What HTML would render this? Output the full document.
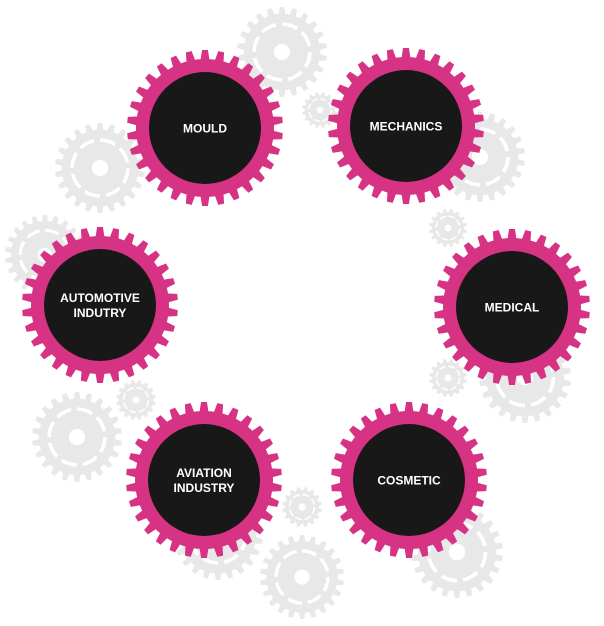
<!DOCTYPE html>
<html><head><meta charset="utf-8"><style>
html,body{margin:0;padding:0;background:#fff;width:604px;height:626px;overflow:hidden}
svg{position:absolute;left:0;top:0}
text{font-family:"Liberation Sans",sans-serif;font-weight:bold;fill:#fff;font-size:12px;text-anchor:middle}
</style></head><body>
<svg id="s" width="604" height="626" viewBox="0 0 604 626"></svg>
<script>
var s=document.getElementById('s'),NS='http://www.w3.org/2000/svg';
function gear(cx,cy,ro,ri,n){var d='',st=Math.PI*2/n;for(var i=0;i<n;i++){var a=i*st;
var pts=[[ri,a],[ri,a+st*0.2],[ro,a+st*0.32],[ro,a+st*0.68],[ri,a+st*0.8]];
pts.forEach(function(p,j){d+=(i==0&&j==0?'M':'L')+(cx+p[0]*Math.cos(p[1])).toFixed(2)+','+(cy+p[0]*Math.sin(p[1])).toFixed(2);});}
return d+'Z';}
function el(t,a){var e=document.createElementNS(NS,t);for(var k in a)e.setAttribute(k,a[k]);s.appendChild(e);return e;}
function grey(cx,cy,r){var n=r>30?22:16;
el('path',{d:gear(cx,cy,r,r*0.85,n),fill:'#e8e8e8'});
el('circle',{cx:cx,cy:cy,r:r*0.62,fill:'none',stroke:'#fff','stroke-width':r*0.08,'stroke-dasharray':(r*0.62*2*Math.PI/8*0.72)+' '+(r*0.62*2*Math.PI/8*0.28)});
el('circle',{cx:cx,cy:cy,r:r*0.18,fill:'#fff'});}
[[282,52,45],[320,110,18],[100,168,45],[480,157,45],[45,255,40],[448,228,19],[525,377,46],[448,378,19],[77,437,45],[136,400,20],[218,535,45],[302,507,20],[302,577,42],[457,552,46]].forEach(function(g){grey(g[0],g[1],g[2]);});
function pink(cx,cy,lines){
el('path',{d:gear(cx,cy,78,69,30),fill:'#d63384'});
el('circle',{cx:cx,cy:cy,r:56,fill:'#181818'});
var y0=cy+4.5-(lines.length-1)*7.5;
lines.forEach(function(t,i){var e=el('text',{x:cx,y:y0+i*15});e.textContent=t;});}
pink(205,128,['MOULD']);pink(406,126,['MECHANICS']);pink(100,305,['AUTOMOTIVE','INDUTRY']);
pink(512,307,['MEDICAL']);pink(204,480,['AVIATION','INDUSTRY']);pink(409,480,['COSMETIC']);
</script>
</body></html>
